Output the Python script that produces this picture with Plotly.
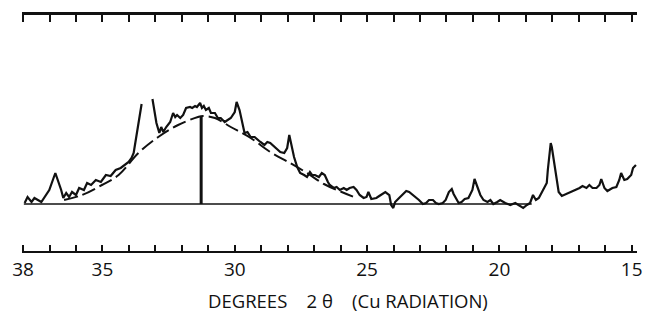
import plotly.graph_objects as go

# X-ray diffraction trace (2-theta in degrees, intensity above background, arbitrary units)
two_theta = [
    37.94, 37.83, 37.68, 37.57, 37.31, 37.01, 36.78, 36.71, 36.56, 36.48,
    36.37, 36.26, 36.15, 36.00, 35.88, 35.70, 35.58, 35.43, 35.25, 35.06,
    34.87, 34.69, 34.50, 34.31, 34.20, 34.01, 33.90, 33.82, 33.52, None,
    33.11, 32.96, 32.85, 32.78, 32.70, 32.59, 32.44, 32.33, 32.25, 32.18,
    32.06, 31.95, 31.84, 31.69, 31.61, 31.50, 31.43, 31.31, 31.24, 31.17,
    31.09, 30.98, 30.90, 30.75, 30.64, 30.53, 30.38, 30.27, 30.15, 30.00,
    29.93, 29.82, 29.70, 29.63, 29.52, 29.40, 29.25, 29.14, 29.03, 28.88,
    28.77, 28.66, 28.49, 28.39, 28.28, 28.13, 28.02, 27.94, 27.87, 27.76,
    27.64, 27.53, 27.38, 27.27, 27.16, 27.08, 26.97, 26.82, 26.71, 26.60,
    26.48, 26.41, 26.26, 26.15, 26.03, 25.88, 25.77, 25.66, 25.51, 25.40,
    25.28, 25.13, 25.02, 24.95, 24.84, 24.65, 24.54, 24.39, 24.31, 24.16,
    24.09, 24.01, 23.94, 23.79, 23.64, 23.52, 23.41, 23.26, 23.15, 23.04,
    22.89, 22.77, 22.66, 22.51, 22.40, 22.29, 22.14, 22.03, 21.91, 21.80,
    21.73, 21.61, 21.54, 21.43, 21.31, 21.17, 21.02, 20.94, 20.83, 20.72,
    20.60, 20.45, 20.34, 20.23, 20.08, 19.97, 19.78, 19.59, 19.40, 19.26,
    19.10, 18.96, 18.84, 18.73, 18.62, 18.51, 18.36, 18.21, 18.17, 18.09,
    18.06, 18.02, 17.94, 17.83, 17.76, 17.64, 17.46, 17.27, 17.08, 16.97,
    16.86, 16.71, 16.60, 16.48, 16.33, 16.22, 16.15, 16.03, 15.92, 15.73,
    15.58, 15.47, 15.40, 15.28, 15.17, 15.02, 14.95, 14.84,
]
intensity = [
    1, 7, 2, 6, 2, 14, 31, 26, 14, 6,
    11, 7, 12, 9, 16, 14, 21, 19, 24, 22,
    29, 28, 34, 36, 38, 42, 46, 51, 100, None,
    105, 81, 71, 77, 72, 77, 82, 91, 87, 89,
    86, 89, 96, 97, 96, 98, 97, 101, 96, 98,
    94, 96, 91, 91, 86, 86, 82, 84, 86, 92,
    102, 94, 77, 71, 72, 67, 67, 64, 62, 59,
    62, 61, 57, 54, 52, 51, 56, 69, 59, 47,
    37, 31, 29, 27, 32, 29, 29, 27, 31, 29,
    22, 19, 16, 17, 14, 16, 14, 16, 17, 14,
    9, 6, 7, 12, 5, 6, 8, 11, 12, 9,
    -1, -4, 2, 6, 10, 13, 12, 9, 6, 4,
    0, 1, 4, 4, 1, 0, 1, 4, 12, 15,
    10, 4, 1, 2, 5, 6, 14, 25, 16, 9,
    4, 2, 4, 0, 2, 4, 1, -1, 1, -1,
    -4, -1, 1, 9, 4, 6, 14, 21, 34, 51,
    61, 57, 44, 24, 12, 8, 10, 12, 14, 16,
    18, 16, 19, 16, 16, 19, 25, 16, 13, 16,
    17, 24, 31, 24, 25, 29, 36, 39,
]

# Dashed envelope of the amorphous hump
hump_theta = [36.45, 35.77, 35.02, 34.39, 33.64, 32.89, 32.14, 31.39, 31.20,
              30.75, 30.15, 29.40, 28.66, 27.91, 27.27, 26.63, 25.96, 25.40]
hump_height = [4, 9, 19, 29, 51, 67, 79, 87, 88,
               86, 77, 66, 52, 41, 31, 20, 12, 6]

# Hump maximum marker
peak_theta = [31.27, 31.27]
peak_height = [0, 88]

# Background line
base_theta = [37.97, 18.78]
base_level = [0, 0]

tick_vals = list(range(38, 14, -1))
tick_text = [str(v) if v in (38, 35, 30, 25, 20, 15) else "" for v in tick_vals]

x_range = [38.04, 14.80]
y_range = [-47, 189]

ink = "#111111"

fig = go.Figure()
fig.add_trace(go.Scatter(x=base_theta, y=base_level, mode="lines",
                         line=dict(color=ink, width=1.6), xaxis="x2",
                         hoverinfo="skip"))
fig.add_trace(go.Scatter(x=hump_theta, y=hump_height, mode="lines",
                         line=dict(color=ink, width=2, dash="14px,5px", shape="spline"),
                         hoverinfo="skip"))
fig.add_trace(go.Scatter(x=peak_theta, y=peak_height, mode="lines",
                         line=dict(color=ink, width=3), hoverinfo="skip"))
fig.add_trace(go.Scatter(x=two_theta, y=intensity, mode="lines",
                         line=dict(color=ink, width=2.2), connectgaps=False))

fig.update_layout(
    width=652, height=320,
    margin=dict(l=22, r=9, t=15, b=69),
    paper_bgcolor="white", plot_bgcolor="white",
    showlegend=False,
    font=dict(family="Open Sans, Liberation Sans, sans-serif", color=ink),
    xaxis=dict(
        range=x_range, tickmode="array", tickvals=tick_vals, ticktext=tick_text,
        ticks="inside", ticklen=6, tickwidth=1.6, tickcolor=ink,
        showline=True, linewidth=2, linecolor=ink,
        showgrid=False, zeroline=False,
        tickfont=dict(size=19, color=ink),
    ),
    xaxis2=dict(
        range=x_range, overlaying="x", side="top", anchor="y",
        tickmode="array", tickvals=tick_vals, showticklabels=False,
        ticks="inside", ticklen=7, tickwidth=2.4, tickcolor=ink,
        showline=True, linewidth=3, linecolor=ink,
        showgrid=False, zeroline=False,
    ),
    yaxis=dict(range=y_range, visible=False, showgrid=False, zeroline=False),
    annotations=[dict(
        text="DEGREES\u00a0\u00a0\u00a0\u00a02\u00a0\u03b8\u00a0\u00a0\u00a0\u00a0(Cu\u00a0RADIATION)",
        xref="paper", yref="paper", x=0.53, y=-0.208,
        xanchor="center", yanchor="middle", showarrow=False,
        font=dict(size=18.5, color=ink, family="Open Sans, Liberation Sans, sans-serif"),
    )],
)

fig.write_html("out.html")
